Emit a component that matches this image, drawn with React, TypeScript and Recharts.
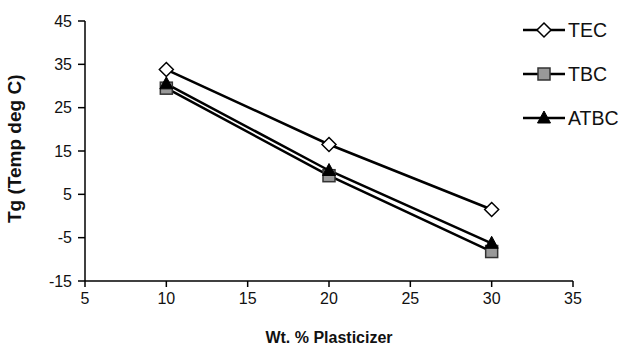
import React from 'react';
import { LineChart, Line, XAxis, YAxis } from 'recharts';

const plasticizer = [10, 20, 30];
const tec = [33.8, 16.5, 1.5];
const tbc = [29.5, 9.3, -8.2];
const atbc = [30.5, 10.5, -6.3];

const xTicks = [5, 10, 15, 20, 25, 30, 35];
const yTicks = [-15, -5, 5, 15, 25, 35, 45];

const data = plasticizer.map((p, i) => ({ p, TEC: tec[i], TBC: tbc[i], ATBC: atbc[i] }));

const font = 'Arial, "Liberation Sans", sans-serif';

const Diamond = ({ cx, cy }: any) => (
    <path d={`M${cx},${cy - 7} L${cx + 7},${cy} L${cx},${cy + 7} L${cx - 7},${cy} Z`} fill="#fff" stroke="#000" strokeWidth={1.5} />
);
const Square = ({ cx, cy }: any) => (
    <rect x={cx - 6} y={cy - 6} width={12} height={12} fill="#999" stroke="#333" strokeWidth={1.5} />
);
const Triangle = ({ cx, cy }: any) => (
    <path d={`M${cx},${cy - 7} L${cx + 6.5},${cy + 5} L${cx - 6.5},${cy + 5} Z`} fill="#000" stroke="#000" strokeWidth={1} />
);

const markers: Record<string, any> = { TEC: Diamond, TBC: Square, ATBC: Triangle };

const LegendBox = () => (
    <div style={{ position: 'absolute', left: 521, top: 8 }}>
        {['TEC', 'TBC', 'ATBC'].map((k) => {
            const M = markers[k];
            return (
                <div key={k} style={{ display: 'flex', alignItems: 'center', height: 44 }}>
                    <svg width={46} height={20}>
                        <line x1={2} x2={44} y1={10} y2={10} stroke="#000" strokeWidth={2.5} />
                        <M cx={23} cy={10} />
                    </svg>
                    <span style={{ fontFamily: font, fontSize: 19.5, color: '#111', marginLeft: 1 }}>{k}</span>
                </div>
            );
        })}
    </div>
);

export default function App() {
    return (
        <div style={{ position: 'absolute', left: 0, top: 0, width: 642, height: 346, background: '#fff' }}>
            <LineChart width={642} height={346} data={data} margin={{ top: 21, right: 69, bottom: 0, left: 0 }}>
                <XAxis
                    dataKey="p"
                    type="number"
                    domain={[5, 35]}
                    ticks={xTicks}
                    height={65}
                    axisLine={{ stroke: '#000', strokeWidth: 1.5 }}
                    tickLine={{ stroke: '#000', strokeWidth: 1.5 }}
                    tickSize={6}
                    tickMargin={6}
                    tick={{ fill: '#111', fontSize: 16, fontFamily: font }}
                    label={{ value: 'Wt. % Plasticizer', position: 'insideBottom', offset: 3, fill: '#111', fontSize: 16, fontWeight: 'bold', fontFamily: font }}
                />
                <YAxis
                    type="number"
                    domain={[-15, 45]}
                    ticks={yTicks}
                    width={85}
                    axisLine={{ stroke: '#000', strokeWidth: 1.5 }}
                    tickLine={{ stroke: '#000', strokeWidth: 1.5 }}
                    tickSize={7}
                    tickMargin={6}
                    tick={{ fill: '#111', fontSize: 16, fontFamily: font }}
                    label={{ value: 'Tg (Temp deg C)', angle: -90, position: 'insideLeft', offset: 14, dy: 72, fill: '#111', fontSize: 19, fontWeight: 'bold', fontFamily: font }}
                />
                <Line dataKey="TEC" stroke="#000" strokeWidth={2.5} dot={<Diamond />} isAnimationActive={false} />
                <Line dataKey="TBC" stroke="#000" strokeWidth={2.5} dot={<Square />} isAnimationActive={false} />
                <Line dataKey="ATBC" stroke="#000" strokeWidth={2.5} dot={<Triangle />} isAnimationActive={false} />
            </LineChart>
            <LegendBox />
        </div>
    );
}
